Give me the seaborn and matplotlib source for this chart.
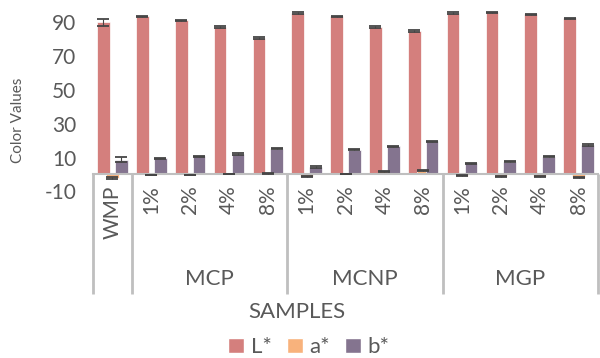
import matplotlib
matplotlib.use('Agg')
import matplotlib.pyplot as plt  # noqa: E402
from matplotlib.patches import Patch  # noqa: E402
import pandas as pd  # noqa: E402
import seaborn as sns  # noqa: E402

# one entry per category on the x axis (WMP control, then 3 groups x 4 loadings)
SAMPLES = ['WMP',
           'MCP 1%', 'MCP 2%', 'MCP 4%', 'MCP 8%',
           'MCNP 1%', 'MCNP 2%', 'MCNP 4%', 'MCNP 8%',
           'MGP 1%', 'MGP 2%', 'MGP 4%', 'MGP 8%']
TICK_LABELS = ['WMP', '1%', '2%', '4%', '8%', '1%', '2%', '4%', '8%', '1%', '2%', '4%', '8%']
GROUP_NAMES = ['MCP', 'MCNP', 'MGP']
GROUP_SIZES = [4, 4, 4]

COMPONENTS = ['L*', 'a*', 'b*']
L_STAR = [90.0, 93.5, 91.3, 87.0, 80.7, 95.5, 93.7, 87.3, 85.0, 95.5, 96.0, 94.8, 92.3]
A_STAR = [-2.0, -0.3, -0.3, 0.3, 0.8, -1.0, 0.3, 1.8, 2.2, -0.8, -1.0, -1.0, -1.5]
B_STAR = [8.8, 9.5, 10.8, 12.2, 15.3, 4.5, 14.5, 16.6, 19.6, 6.6, 7.6, 10.6, 17.6]
L_ERR = [2.0, 0.5, 0.4, 0.6, 0.5, 0.4, 0.3, 0.6, 0.5, 0.4, 0.3, 0.4, 0.5]
A_ERR = [0.4, 0.2, 0.2, 0.2, 0.3, 0.2, 0.2, 0.3, 0.4, 0.2, 0.2, 0.2, 0.3]
B_ERR = [1.5, 0.4, 0.4, 0.4, 0.5, 0.5, 0.3, 0.4, 0.5, 0.3, 0.4, 0.5, 0.6]

COLORS = {'L*': '#D47F7D', 'a*': '#F8B27C', 'b*': '#84748F'}
GREY = '#595959'
LINE = '#BFBFBF'

df = pd.DataFrame({
    'sample': SAMPLES * 3,
    'component': [c for c in COMPONENTS for _ in SAMPLES],
    'value': L_STAR + A_STAR + B_STAR,
    'err': L_ERR + A_ERR + B_ERR,
})

sns.set_style('white')
plt.rcParams['font.family'] = ['Lato', 'DejaVu Sans']
plt.rcParams['axes.unicode_minus'] = False

fig = plt.figure(figsize=(6, 3.58), dpi=100)
ax = fig.add_axes([0.155, 0.4654, 0.8417, 0.5193])

sns.barplot(data=df, x='sample', y='value', hue='component', order=SAMPLES,
            hue_order=COMPONENTS, palette=COLORS, width=0.69, saturation=1,
            errorbar=None, legend=False, edgecolor='white', linewidth=0.5, ax=ax)

# Excel-style overlapping bars: widen each bar about its centre, then error bars
for comp, cont in zip(COMPONENTS, ax.containers):
    errs = df[df.component == comp]['err'].tolist()
    xs, ys = [], []
    for bar in cont:
        w = bar.get_width()
        cx = bar.get_x() + w / 2
        bar.set_width(w * 1.42)
        bar.set_x(cx - w * 1.42 / 2)
        xs.append(cx)
        ys.append(bar.get_height())
    ax.errorbar(xs, ys, yerr=errs, fmt='none', ecolor='#454545', elinewidth=0.8,
                capsize=4.0, capthick=1.3, zorder=5)

ax.set_xlim(-0.5, len(SAMPLES) - 0.5)
ax.set_ylim(-10, 100)
ax.set_yticks(range(-10, 91, 20))
ax.tick_params(axis='y', length=0, pad=12, labelsize=15, labelcolor=GREY)

# category axis sits at zero
ax.spines['bottom'].set_position(('data', 0))
ax.spines['bottom'].set_color(LINE)
ax.spines['bottom'].set_linewidth(1.5)
for s in ('left', 'right', 'top'):
    ax.spines[s].set_visible(False)
ax.set_xticks(range(len(SAMPLES)))
ax.set_xticklabels(TICK_LABELS, rotation=90, fontsize=15, color=GREY)
ax.tick_params(axis='x', length=0, pad=8)
ax.set_xlabel('')
ax.set_ylabel('Color Values', fontsize=11, color=GREY)
ax.yaxis.set_label_coords(-0.135, 0.38)

# multi-level category table: dividers and group names
bounds = [-0.5, 0.5]
for n in GROUP_SIZES:
    bounds.append(bounds[-1] + n)
ax.vlines(bounds, 0, -71, colors=LINE, linewidth=2, clip_on=False)
for name, lo, hi in zip(GROUP_NAMES, bounds[1:-1], bounds[2:]):
    ax.text((lo + hi) / 2, -62, name, ha='center', va='center', fontsize=16,
            color=GREY, clip_on=False)

fig.text(0.495, 0.128, 'SAMPLES', ha='center', va='center', fontsize=16, color=GREY)

handles = [Patch(facecolor=COLORS[c], label=c) for c in COMPONENTS]
fig.legend(handles=handles, loc='center', bbox_to_anchor=(0.515, 0.03), ncol=3,
           frameon=False, fontsize=16, handlelength=0.7, handleheight=0.7,
           handletextpad=0.3, columnspacing=0.7, labelcolor=GREY)

fig.savefig('out.png', dpi=100)
